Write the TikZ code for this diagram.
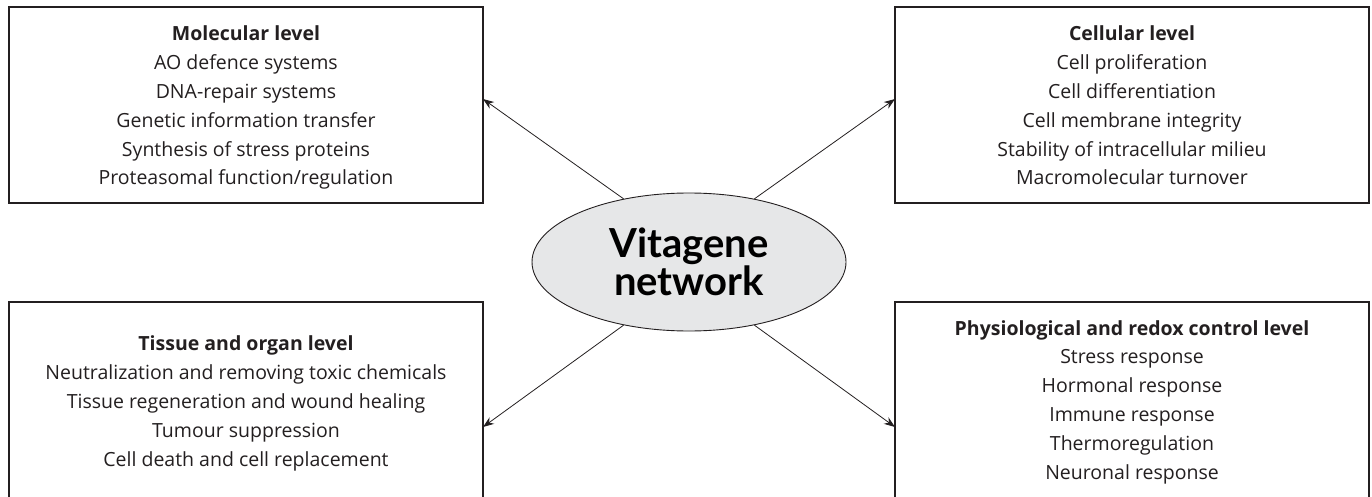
\documentclass[tikz,border=0pt]{standalone}
\usepackage{fontspec}
\setmainfont{Open Sans}
\newfontfamily\titlefont{Lato}
\usetikzlibrary{shapes.geometric,arrows.meta}
\definecolor{ovalgray}{HTML}{E6E7E8}
\definecolor{inkgray}{HTML}{231F20}
\tikzset{
  lvlbox/.style={draw=inkgray, line width=1.2pt, minimum width=474pt, inner sep=0pt, outer sep=0pt},
  lvltext/.style={align=center, text=inkgray, font=\fontsize{19.5}{28.8}\selectfont, anchor=base},
  arr/.style={-{Stealth[length=11pt,width=8pt]}, line width=0.8pt, draw=inkgray},
}
\begin{document}
\begin{tikzpicture}[x=1pt,y=-1pt]
        \useasboundingbox (0,0) rectangle (1372,497);
        \clip (0,0) rectangle (1372,497);
        % the four level boxes
        \node[lvlbox, minimum height=196pt] at (246,105) (mol) {};
        \node[lvlbox, minimum height=196pt] at (1132,105) (cel) {};
        \node[lvlbox, minimum height=250pt] at (246,427) (tis) {};
        \node[lvlbox, minimum height=250pt] at (1132,427) (phy) {};
        % texts, placed by the baseline of their last line
        \node[lvltext] at (246,185) (moltxt) {\textbf{Molecular level}\\AO defence systems\\DNA-repair systems\\Genetic information transfer\\Synthesis of stress proteins\\Proteasomal function/regulation};
        \node[lvltext] at (1132,185) (celtxt) {\textbf{Cellular level}\\Cell proliferation\\Cell differentiation\\Cell membrane integrity\\Stability of intracellular milieu\\Macromolecular turnover};
        \node[lvltext] at (246,466) (tistxt) {\textbf{Tissue and organ level}\\Neutralization and removing toxic chemicals\\Tissue regeneration and wound healing\\Tumour suppression\\Cell death and cell replacement};
        \node[lvltext] at (1132,479) (phytxt) {\textbf{Physiological and redox control level}\\Stress response\\Hormonal response\\Immune response\\Thermoregulation\\Neuronal response};
        % centre
        \node[ellipse, draw=inkgray, line width=0.9pt, fill=ovalgray, minimum width=314pt, minimum height=138pt, inner sep=0pt, align=center, font=\titlefont\bfseries\fontsize{40}{35}\selectfont] at (689,262) (vit) {Vitagene\\network};
        \draw[arr] (vit.136) -- ([yshift=6pt]mol.east);
        \draw[arr] (vit.44) -- ([yshift=6pt]cel.west);
        \draw[arr] (vit.-136) -- (tis.east);
        \draw[arr] (vit.-44) -- (phy.west);
      \end{tikzpicture}
\end{document}
